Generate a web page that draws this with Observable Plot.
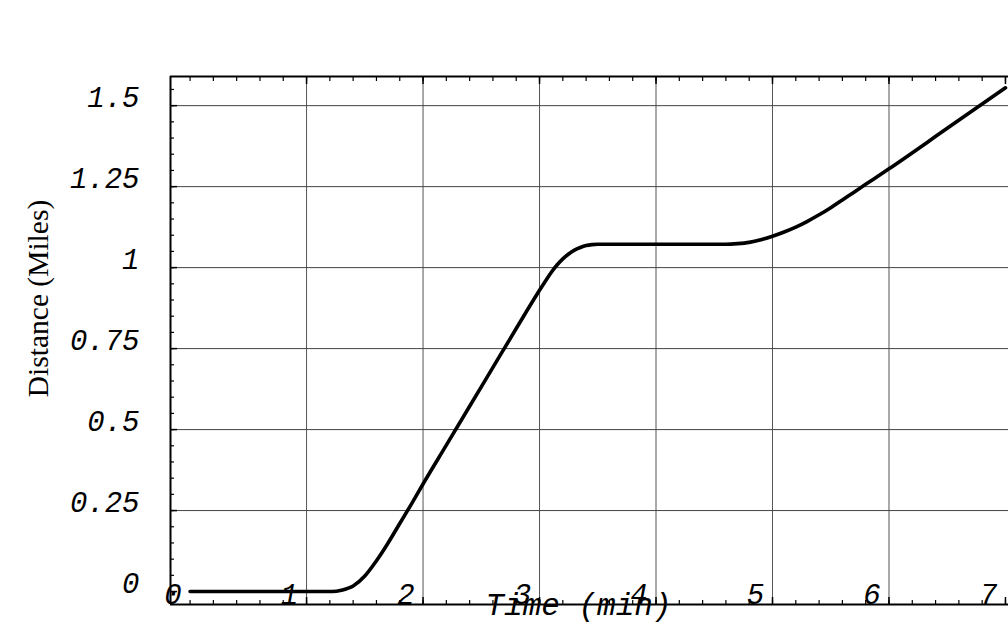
<!DOCTYPE html>
<html>
<head>
<meta charset="utf-8">
<script src="https://cdn.jsdelivr.net/npm/d3@7"></script>
<script src="https://cdn.jsdelivr.net/npm/@observablehq/plot@0.6"></script>
<style>
  html, body { margin: 0; padding: 0; background: #fff; }
</style>
</head>
<body>
<div id="chart"></div>
<script>
// ---- data ----
const time = [0, 0.5, 1.0, 1.22, 1.3, 1.4, 1.5, 1.6, 1.7, 1.8, 1.9, 2.0, 2.2, 2.4, 2.6, 2.8, 3.0, 3.05, 3.1, 3.15, 3.2, 3.25, 3.3, 3.35, 3.4, 3.45, 3.5, 4.0, 4.6, 4.7, 4.8, 4.9, 5.0, 5.1, 5.2, 5.3, 5.4, 5.5, 5.6, 5.7, 5.8, 6.0, 6.5, 7.0];
const distance = [0, 0, 0, 0, 0.004, 0.017, 0.048, 0.095, 0.150, 0.210, 0.270, 0.332, 0.452, 0.572, 0.692, 0.812, 0.930, 0.958, 0.985, 1.008, 1.027, 1.042, 1.054, 1.062, 1.068, 1.071, 1.072, 1.072, 1.072, 1.074, 1.078, 1.086, 1.097, 1.110, 1.125, 1.143, 1.163, 1.185, 1.209, 1.233, 1.257, 1.305, 1.430, 1.555];

const xTickValues = [0, 1, 2, 3, 4, 5, 6, 7];
const xTickLabels = ["0", "1", "2", "3", "4", "5", "6", "7"];
const xGridValues = [1, 2, 3, 4, 5, 6];
const yTickValues = [0, 0.25, 0.5, 0.75, 1, 1.25, 1.5];
const yTickLabels = ["0", "0.25", "0.5", "0.75", "1", "1.25", "1.5"];
const yGridValues = [0.25, 0.5, 0.75, 1, 1.25, 1.5];
const xDomain = [-0.168, 7.026];
const yDomain = [-0.040, 1.590];
const xTitle = ["Time (min)"];
const yTitle = ["Distance (Miles)"];

const xMinor = d3.range(0, 7.001, 0.2);
const yMinor = d3.range(0, 1.551, 0.05);

const rows = time.map((t, i) => ({t, d: distance[i]}));
const xLab = new Map(xTickValues.map((v, i) => [v, xTickLabels[i]]));
const yLab = new Map(yTickValues.map((v, i) => [v, yTickLabels[i]]));

const mono = "'Liberation Mono', 'DejaVu Sans Mono', monospace";

const chart = Plot.plot({
  width: 1008,
  height: 644,
  marginLeft: 170,
  marginRight: 0,
  marginTop: 76,
  marginBottom: 40,
  style: {fontFamily: mono, fontStyle: "italic", fontSize: "28px", background: "#fff", color: "#000"},
  x: {domain: xDomain, axis: null},
  y: {domain: yDomain, axis: null},
  marks: [
    Plot.gridX(xGridValues, {stroke: "#555", strokeOpacity: 1, strokeWidth: 1}),
    Plot.gridY(yGridValues, {stroke: "#444", strokeOpacity: 1, strokeWidth: 1}),
    // inward ticks (no labels)
    Plot.axisX({anchor: "bottom", ticks: xMinor, tickSize: -4, fill: "none", label: null, strokeWidth: 1.2}),
    Plot.axisX({anchor: "bottom", ticks: xTickValues.slice(1), tickSize: -7, fill: "none", label: null, strokeWidth: 1.5}),
    Plot.axisX({anchor: "top", ticks: xMinor, tickSize: -4, fill: "none", label: null, strokeWidth: 1.2}),
    Plot.axisX({anchor: "top", ticks: xTickValues.slice(1), tickSize: -7, fill: "none", label: null, strokeWidth: 1.5}),
    Plot.axisY({anchor: "left", ticks: yMinor, tickSize: -4, fill: "none", label: null, strokeWidth: 1.2}),
    Plot.axisY({anchor: "left", ticks: yTickValues, tickSize: -7, fill: "none", label: null, strokeWidth: 1.5}),
    // frame lines (left, top, bottom)
    Plot.ruleX([xDomain[0]], {stroke: "#000", strokeWidth: 2}),
    Plot.ruleY(yDomain, {stroke: "#000", strokeWidth: 2}),
    // tick labels
    Plot.axisY({anchor: "left", ticks: yTickValues, tickSize: 0, tickPadding: 31, dy: -8, label: null,
      tickFormat: d => yLab.get(d), fontSize: 29, fill: "#000"}),
    Plot.axisX({anchor: "bottom", ticks: xTickValues, tickSize: 0, tickPadding: 0, dy: -21, dx: -17, label: null,
      tickFormat: d => xLab.get(d), fontSize: 29, fill: "#000"}),
    // curve
    Plot.line(rows, {x: "t", y: "d", stroke: "#000", strokeWidth: 3.6, curve: "monotone-x", strokeLinecap: "round"}),
    // titles
    Plot.text(xTitle, {frameAnchor: "bottom", dx: -11, dy: 10, fontSize: 31, fill: "#000"}),
    Plot.text(yTitle, {frameAnchor: "left", textAnchor: "middle", rotate: -90, dx: -132, dy: -42, fontSize: 29.5,
      fontFamily: "'Liberation Serif', 'DejaVu Serif', serif", fontStyle: "normal", fill: "#000"})
  ]
});
document.getElementById("chart").appendChild(chart);
</script>
</body>
</html>
